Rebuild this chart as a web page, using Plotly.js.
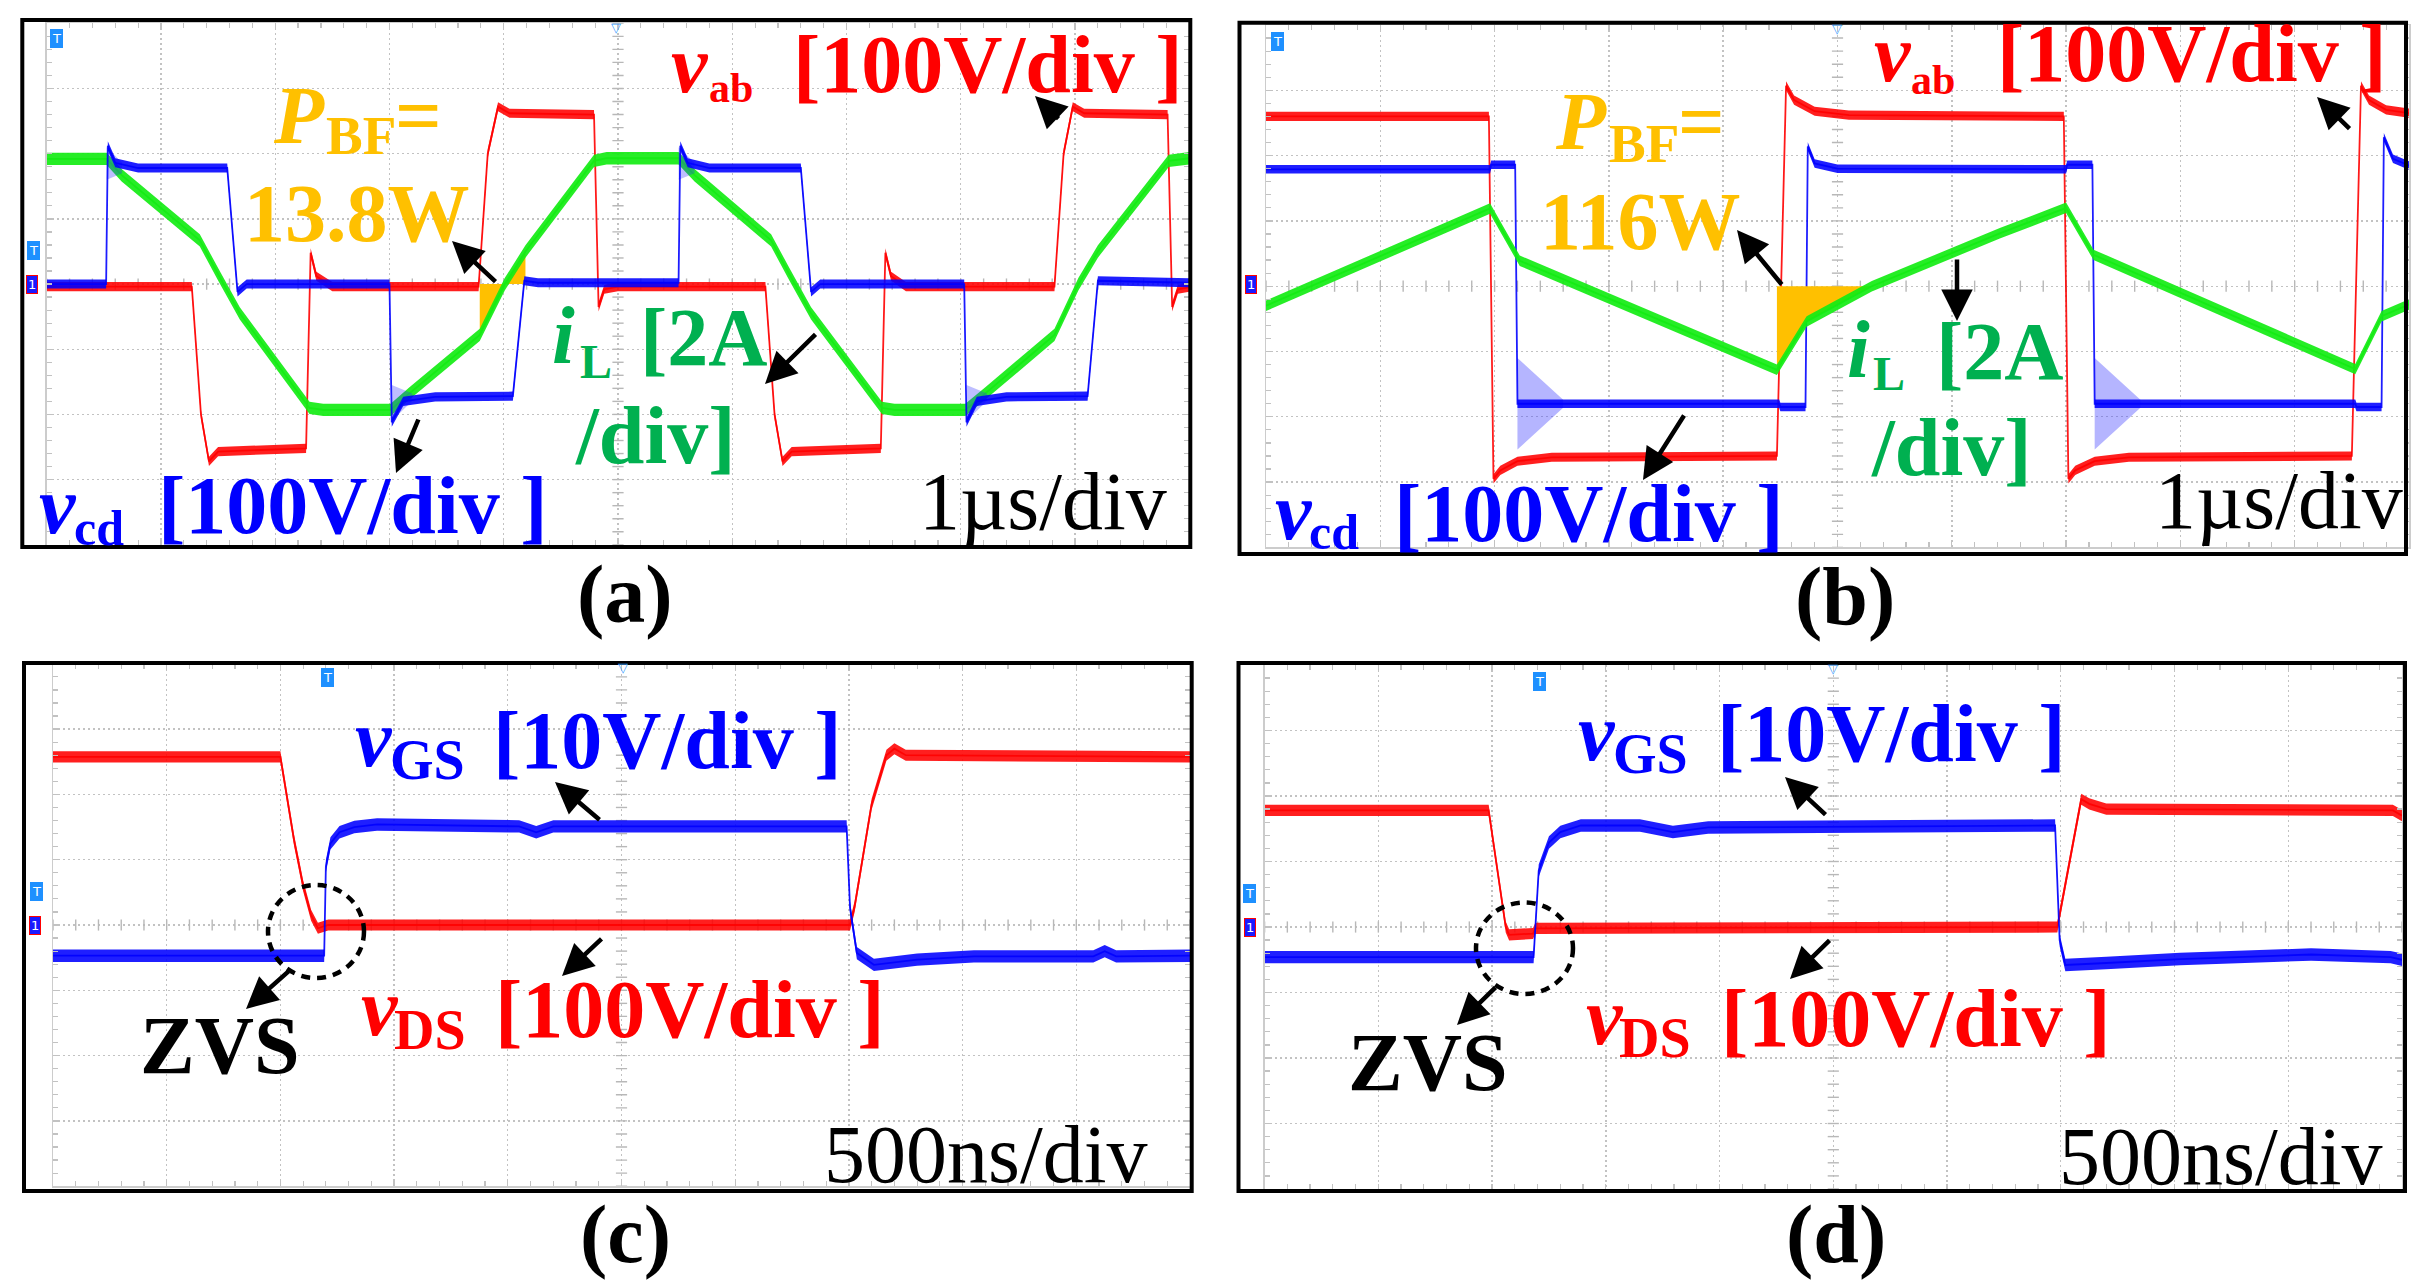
<!DOCTYPE html>
<html><head><meta charset="utf-8">
<script src="https://cdn.plot.ly/plotly-3.0.1.min.js"></script>
<style>html,body{margin:0;padding:0;background:#fff;}#chart{width:2425px;height:1286px;}</style>
</head><body><div id="chart"></div>
<script>
// ===== DATA (oscilloscope divisions: time 0..10, amplitude -4..4) =====
// Panel (a)
const aRedX   = [0, 1.27, 1.35, 1.42, 1.5, 2.27, 2.31, 2.36, 2.5, 3.78, 3.86, 3.95, 4.05, 4.79, 4.83, 4.88, 5.0, 6.29, 6.37, 6.44, 6.52, 7.3, 7.34, 7.39, 7.52, 8.82, 8.9, 8.98, 9.08, 9.81, 9.85, 9.9, 10];
const aRedY   = [-0.04, -0.04, -2.0, -2.72, -2.57, -2.52, 0.48, 0.12, -0.04, -0.04, 2.0, 2.72, 2.62, 2.6, -0.35, -0.08, -0.04, -0.04, -2.0, -2.72, -2.57, -2.52, 0.48, 0.12, -0.04, -0.04, 2.0, 2.72, 2.62, 2.6, -0.35, -0.08, -0.05];
const aBlueX  = [0, 0.52, 0.535, 0.6, 0.8, 1.58, 1.67, 1.75, 3.0, 3.02, 3.12, 3.4, 4.08, 4.18, 4.3, 5.53, 5.545, 5.61, 5.8, 6.6, 6.69, 6.77, 8.03, 8.05, 8.14, 8.4, 9.11, 9.2, 10];
const aBlueY  = [0.0, 0.0, 2.12, 1.86, 1.78, 1.78, -0.12, 0.0, 0.0, -2.12, -1.8, -1.73, -1.72, 0.05, 0.02, 0.02, 2.12, 1.86, 1.78, 1.78, -0.12, 0.0, 0.0, -2.12, -1.8, -1.73, -1.72, 0.05, 0.02];
const aGreenX = [0, 0.525, 0.656, 1.34, 1.5, 1.69, 2.3, 2.42, 3.01, 3.18, 3.79, 4.01, 4.19, 4.79, 4.9, 5.53, 5.67, 6.34, 6.5, 6.69, 7.31, 7.42, 8.04, 8.22, 8.82, 9.03, 9.2, 9.82, 10];
const aGreenY = [1.92, 1.92, 1.67, 0.67, 0.15, -0.45, -1.9, -1.93, -1.93, -1.67, -0.78, 0.0, 0.5, 1.89, 1.93, 1.93, 1.67, 0.67, 0.15, -0.45, -1.9, -1.93, -1.93, -1.67, -0.78, 0.0, 0.5, 1.89, 1.93];
const aBfX    = [3.79, 3.79, 4.01, 4.19, 4.19];
const aBfY    = [0, -0.78, 0, 0.5, 0];
const aRingX  = [0.525, 0.66, 0.66, 0.525, null, 3.02, 3.2, 3.2, 3.02, null, 5.53, 5.67, 5.67, 5.53, null, 8.05, 8.23, 8.23, 8.05];
const aRingY  = [2.1, 1.86, 1.7, 1.6, null, -1.55, -1.68, -1.79, -2.1, null, 2.1, 1.86, 1.7, 1.6, null, -1.55, -1.68, -1.79, -2.1];
// Panel (b)
const bRedX   = [0, 1.95, 1.99, 2.05, 2.2, 2.5, 4.47, 4.55, 4.62, 4.8, 5.1, 6.98, 7.02, 7.08, 7.25, 7.55, 9.5, 9.58, 9.65, 9.8, 10];
const bRedY   = [2.6, 2.6, -2.95, -2.82, -2.68, -2.62, -2.6, 3.07, 2.85, 2.68, 2.62, 2.6, -2.95, -2.82, -2.68, -2.62, -2.6, 3.07, 2.85, 2.7, 2.65];
const bBlueX  = [0, 1.96, 1.97, 2.18, 2.2, 2.6, 4.49, 4.5, 4.72, 4.74, 4.8, 5.0, 7.0, 7.01, 7.23, 7.25, 7.6, 9.53, 9.54, 9.76, 9.78, 9.86, 10];
const bBlueY  = [1.79, 1.79, 1.86, 1.86, -1.8, -1.8, -1.8, -1.85, -1.85, 2.14, 1.88, 1.8, 1.79, 1.86, 1.86, -1.8, -1.8, -1.8, -1.85, -1.85, 2.28, 1.95, 1.85];
const bGreenX = [0, 1.96, 2.22, 4.47, 4.73, 5.3, 6.42, 7.0, 7.24, 9.53, 9.76, 10];
const bGreenY = [-0.3, 1.19, 0.39, -1.28, -0.54, 0.0, 0.81, 1.2, 0.48, -1.27, -0.46, -0.28];
const bBfX    = [4.47, 4.47, 4.73, 5.3];
const bBfY    = [0, -1.28, -0.54, 0];
const bRingX  = [2.2, 2.6, 2.6, 2.2, null, 7.25, 7.65, 7.65, 7.25];
const bRingY  = [-1.1, -1.74, -1.86, -2.5, null, -1.1, -1.74, -1.86, -2.5];
// Panel (c)
const cRedX   = [0, 2.0, 2.12, 2.2, 2.27, 2.33, 2.42, 7.01, 7.05, 7.2, 7.33, 7.4, 7.5, 10];
const cRedY   = [2.575, 2.575, 1.3, 0.6, 0.15, -0.05, 0.0, 0.0, 0.28, 1.85, 2.6, 2.7, 2.6, 2.575];
const cBlueX  = [0, 2.385, 2.4, 2.44, 2.52, 2.65, 2.85, 4.1, 4.25, 4.4, 6.98, 7.01, 7.07, 7.22, 7.6, 8.1, 9.15, 9.25, 9.35, 10];
const cBlueY  = [-0.47, -0.47, 0.9, 1.25, 1.42, 1.5, 1.54, 1.51, 1.42, 1.51, 1.51, 0.26, -0.43, -0.61, -0.53, -0.48, -0.48, -0.4, -0.48, -0.47];
// Panel (d)
const dRedX   = [0, 1.97, 2.12, 2.15, 2.36, 2.38, 6.97, 7.18, 7.25, 7.4, 9.92, 10];
const dRedY   = [1.78, 1.78, 0.0, -0.12, -0.1, -0.02, 0.0, 1.95, 1.88, 1.8, 1.78, 1.7];
const dBlueX  = [0, 2.365, 2.41, 2.5, 2.6, 2.78, 3.3, 3.59, 3.9, 4.88, 6.95, 6.99, 7.04, 7.4, 8.05, 9.2, 9.9, 10];
const dBlueY  = [-0.46, -0.46, 0.86, 1.29, 1.45, 1.55, 1.55, 1.45, 1.52, 1.53, 1.55, -0.2, -0.58, -0.55, -0.49, -0.42, -0.46, -0.5];

// ===== STYLE / LAYOUT =====
const W = 2425, H = 1286;
const RED = '#ff0000', BLUE = '#0000ff', TGREEN = '#00b050', ORANGE = '#ffc000', BLACK = '#000000';
const FONT = 'Liberation Serif, Times New Roman, serif';
const px = v => v / W, py = v => 1 - v / H;

function band(xs, ys, h, col, ax, ay, lw) {
  const up = ys.map(v => v + h), lo = ys.map(v => v - h);
  return [
    {type:'scatter', mode:'lines', x:xs, y:up, xaxis:ax, yaxis:ay, line:{width:0, color:col}, hoverinfo:'skip'},
    {type:'scatter', mode:'lines', x:xs, y:lo, xaxis:ax, yaxis:ay, line:{width:0, color:col}, fill:'tonexty', fillcolor:col, hoverinfo:'skip'},
    {type:'scatter', mode:'lines', x:xs, y:ys, xaxis:ax, yaxis:ay, line:{width:lw || 1.8, color:col}, hoverinfo:'skip'}
  ];
}
function poly(xs, ys, col, ax, ay) {
  return {type:'scatter', mode:'lines', x:xs, y:ys, xaxis:ax, yaxis:ay, fill:'toself', fillcolor:col, line:{width:0, color:col}, hoverinfo:'skip'};
}
function crossTicks(ax, ay) {
  const hx = [], hy = [], vx = [], vy = [];
  for (let k = 0; k <= 50; k++) { hx.push(k * 0.2); hy.push(0); }
  for (let k = 0; k <= 40; k++) { vx.push(5); vy.push(-4 + k * 0.2); }
  return [
    {type:'scatter', mode:'markers', x:hx, y:hy, xaxis:ax, yaxis:ay, marker:{symbol:'line-ns', size:8, line:{width:1.4, color:'#b8b8b8'}}, hoverinfo:'skip'},
    {type:'scatter', mode:'markers', x:vx, y:vy, xaxis:ax, yaxis:ay, marker:{symbol:'line-ew', size:8, line:{width:1.4, color:'#b8b8b8'}}, hoverinfo:'skip'}
  ];
}
function xAx(p0, p1, anchor) {
  return {domain:[px(p0), px(p1)], range:[0, 10], anchor, dtick:1, tick0:0, showgrid:true, gridcolor:'#c2c2c2', gridwidth:1.4, griddash:'2px,3px',
    zeroline:false, showticklabels:false, ticks:'inside', ticklen:5, tickwidth:1.3, tickcolor:'#c2c2c2', showline:true, linecolor:'#cccccc', linewidth:1.5,
    mirror:'ticks', minor:{dtick:0.2, ticks:'inside', ticklen:5, tickwidth:1.2, tickcolor:'#c2c2c2', showgrid:false}, fixedrange:true};
}
function yAx(p0, p1, anchor) {
  return {domain:[py(p1), py(p0)], range:[-4, 4], anchor, dtick:1, tick0:0, showgrid:true, gridcolor:'#c2c2c2', gridwidth:1.4, griddash:'2px,3px',
    zeroline:false, showticklabels:false, ticks:'inside', ticklen:5, tickwidth:1.3, tickcolor:'#c2c2c2', showline:true, linecolor:'#cccccc', linewidth:1.5,
    mirror:'ticks', minor:{dtick:0.2, ticks:'inside', ticklen:5, tickwidth:1.2, tickcolor:'#c2c2c2', showgrid:false}, fixedrange:true};
}

const cR = 'rgba(255,0,0,0.88)', cB = 'rgba(0,0,255,0.88)', cG = 'rgba(20,236,20,0.92)';
const cRingA = 'rgba(40,40,255,0.3)', cRingB = 'rgba(60,60,255,0.38)', cBf = ORANGE;

let data = [];
// (a)
data = data.concat(crossTicks('x', 'y'));
data = data.concat(band(aRedX, aRedY, 0.07, cR, 'x', 'y'));
data.push(poly(aBfX, aBfY, cBf, 'x', 'y'));
data = data.concat(band(aGreenX, aGreenY, 0.095, cG, 'x', 'y'));
data.push(poly(aRingX, aRingY, cRingA, 'x', 'y'));
data = data.concat(band(aBlueX, aBlueY, 0.07, cB, 'x', 'y'));
// (b)
data = data.concat(crossTicks('x2', 'y2'));
data = data.concat(band(bRedX, bRedY, 0.07, cR, 'x2', 'y2'));
data.push(poly(bRingX, bRingY, cRingB, 'x2', 'y2'));
data = data.concat(band(bBlueX, bBlueY, 0.065, cB, 'x2', 'y2'));
data.push(poly(bBfX, bBfY, cBf, 'x2', 'y2'));
data = data.concat(band(bGreenX, bGreenY, 0.08, cG, 'x2', 'y2'));
// (c)
data = data.concat(crossTicks('x3', 'y3'));
data = data.concat(band(cRedX, cRedY, 0.085, cR, 'x3', 'y3'));
data = data.concat(band(cBlueX, cBlueY, 0.095, cB, 'x3', 'y3'));
// (d)
data = data.concat(crossTicks('x4', 'y4'));
data = data.concat(band(dRedX, dRedY, 0.085, cR, 'x4', 'y4'));
data = data.concat(band(dBlueX, dBlueY, 0.095, cB, 'x4', 'y4'));

// text helpers (x = left edge px, base = baseline px)
function T(x, base, text, size, color, weight, style) {
  return {xref:'paper', yref:'paper', x:px(x), y:py(base - 0.3375 * size), xanchor:'left', yanchor:'middle', text, showarrow:false,
    borderpad:0, font:{family:FONT, size, color, weight:weight || 'bold', style:style || 'normal'}};
}
function Lb(cx, base, text) {
  return {xref:'paper', yref:'paper', x:px(cx), y:py(base - 0.3375 * 82), xanchor:'center', yanchor:'middle', text, showarrow:false,
    borderpad:0, font:{family:FONT, size:82, color:BLACK, weight:'bold'}};
}
function A(hx, hy, tx, ty) {
  return {xref:'paper', yref:'paper', x:px(hx), y:py(hy), ax:tx - hx, ay:ty - hy, axref:'pixel', ayref:'pixel', showarrow:true,
    arrowhead:2, arrowsize:1.4, arrowwidth:4.5, arrowcolor:BLACK, text:'', standoff:0};
}
function M(cx, cy, text, bg, bc) {
  return {xref:'paper', yref:'paper', x:px(cx), y:py(cy), xanchor:'center', yanchor:'middle', text, showarrow:false,
    bgcolor:bg, bordercolor:bc || bg, borderwidth:1, borderpad:1, font:{family:'DejaVu Sans', size:13, color:'#ffffff'}};
}
function Tri(cx, cy) {
  return {xref:'paper', yref:'paper', x:px(cx), y:py(cy), xanchor:'center', yanchor:'middle', text:'▽', showarrow:false,
    font:{family:'DejaVu Sans', size:13, color:'#3aa0ff'}};
}
const TB = '#1e90ff', CH1 = '#1a1aff';

const ann = [
  // (a)
  T(670, 92, 'v', 82, RED, 'bold', 'italic'), T(708, 102, 'ab', 42, RED), T(792, 92, '[100V/div ]', 82, RED),
  T(272, 143, 'P', 82, ORANGE, 'bold', 'italic'), T(325, 154, 'BF', 55, ORANGE), T(394, 143, '=', 82, ORANGE),
  T(243, 241.6, '13.8W', 82, ORANGE),
  T(551, 363, 'i', 82, TGREEN, 'bold', 'italic'), T(579, 378, 'L', 48, TGREEN), T(639, 365, '[2A', 82, TGREEN),
  T(574, 463, '/div]', 82, TGREEN),
  T(38, 533, 'v', 82, BLUE, 'bold', 'italic'), T(73, 545, 'cd', 50, BLUE), T(157, 533, '[100V/div ]', 82, BLUE),
  T(918, 529, '1µs/div', 82, BLACK, 'normal'),
  Lb(625, 622.5, '(a)'),
  A(1035, 96, 1060, 120), A(452, 241, 497, 283), A(765, 384, 817, 333), A(396, 473, 419, 418),
  M(56, 38.5, 'T', TB), M(33, 251, 'T', TB), M(32, 284, '1', CH1, RED), Tri(616, 27),
  // (b)
  T(1873, 81.6, 'v', 82, RED, 'bold', 'italic'), T(1910, 94, 'ab', 42, RED), T(1996, 81.6, '[100V/div ]', 82, RED),
  T(1554, 149, 'P', 82, ORANGE, 'bold', 'italic'), T(1608, 162.4, 'BF', 55, ORANGE), T(1677, 149, '=', 82, ORANGE),
  T(1539, 249, '116W', 82, ORANGE),
  T(1846, 377.6, 'i', 82, TGREEN, 'bold', 'italic'), T(1872, 390, 'L', 48, TGREEN), T(1935, 379.6, '[2A', 82, TGREEN),
  T(1869.5, 475.5, '/div]', 82, TGREEN),
  T(1274, 539, 'v', 82, BLUE, 'bold', 'italic'), T(1308, 549, 'cd', 50, BLUE), T(1393, 541, '[100V/div ]', 82, BLUE),
  T(2154, 528.6, '1µs/div', 82, BLACK, 'normal'),
  Lb(1845, 624.5, '(b)'),
  A(2317, 97, 2351, 130), A(1737, 230, 1783, 286), A(1957, 321, 1957, 258), A(1643, 480, 1685, 414),
  M(1277, 41, 'T', TB), M(1251, 285, '1', CH1, RED), Tri(1837, 28.5),
  // (c)
  T(354, 765.7, 'v', 82, BLUE, 'bold', 'italic'), T(389, 779.3, 'GS', 56, BLUE), T(492, 767.7, '[10V/div ]', 82, BLUE),
  T(359.5, 1035.6, 'v', 82, RED, 'bold', 'italic'), T(393, 1048.7, 'DS', 56, RED), T(494, 1037.6, '[100V/div ]', 82, RED),
  T(138.5, 1073.5, 'ZVS', 82, BLACK), T(823, 1181.8, '500ns/div', 82, BLACK, 'normal'),
  Lb(625.5, 1262, '(c)'),
  A(555, 782, 601, 821), A(562, 976, 603, 937.5), A(246, 1009, 290, 970),
  M(327, 677.5, 'T', TB), M(36, 891, 'T', TB), M(35, 925, '1', CH1, RED), Tri(622.6, 667),
  // (d)
  T(1577.4, 760.3, 'v', 82, BLUE, 'bold', 'italic'), T(1612, 772.7, 'GS', 56, BLUE), T(1716, 761.5, '[10V/div ]', 82, BLUE),
  T(1585, 1043.8, 'v', 82, RED, 'bold', 'italic'), T(1618, 1057, 'DS', 56, RED), T(1720, 1045.8, '[100V/div ]', 82, RED),
  T(1347, 1090, 'ZVS', 82, BLACK), T(2058, 1184, '500ns/div', 82, BLACK, 'normal'),
  Lb(1836, 1262, '(d)'),
  A(1785, 777, 1827, 816), A(1790, 979, 1831, 939), A(1457, 1025, 1497, 986),
  M(1539, 681, 'T', TB), M(1250, 893, 'T', TB), M(1250, 927, '1', CH1, RED), Tri(1832.6, 668)
];

function box(x0, y0, x1, y1) {
  return {type:'rect', xref:'paper', yref:'paper', x0:px(x0), x1:px(x1), y0:py(y1), y1:py(y0), line:{color:'#000', width:4}, fillcolor:'rgba(0,0,0,0)', layer:'above'};
}
function ell(x0, y0, x1, y1) {
  return {type:'circle', xref:'paper', yref:'paper', x0:px(x0), x1:px(x1), y0:py(y1), y1:py(y0), line:{color:'#000', width:4.5, dash:'9px,7px'}, layer:'above'};
}

const layout = {
  width:W, height:H, margin:{l:0, r:0, t:0, b:0}, paper_bgcolor:'#ffffff', plot_bgcolor:'#ffffff', showlegend:false,
  xaxis:xAx(46.7, 1189.3, 'y'),  yaxis:yAx(23.3, 544.8, 'x'),
  xaxis2:xAx(1266, 2409, 'y2'),  yaxis2:yAx(25, 547.4, 'x2'),
  xaxis3:xAx(53, 1190, 'y3'),    yaxis3:yAx(663.8, 1186.2, 'x3'),
  xaxis4:xAx(1264.6, 2402, 'y4'),yaxis4:yAx(665, 1189, 'x4'),
  shapes:[box(22.3, 20, 1190.3, 547), box(1239.5, 22.8, 2406, 554), box(24, 663, 1191.7, 1191), box(1238.5, 663, 2405, 1191),
          ell(268, 885, 364, 978), ell(1476, 902.5, 1573, 994)],
  annotations:ann
};
Plotly.newPlot('chart', data, layout, {staticPlot:true});
</script></body></html>
